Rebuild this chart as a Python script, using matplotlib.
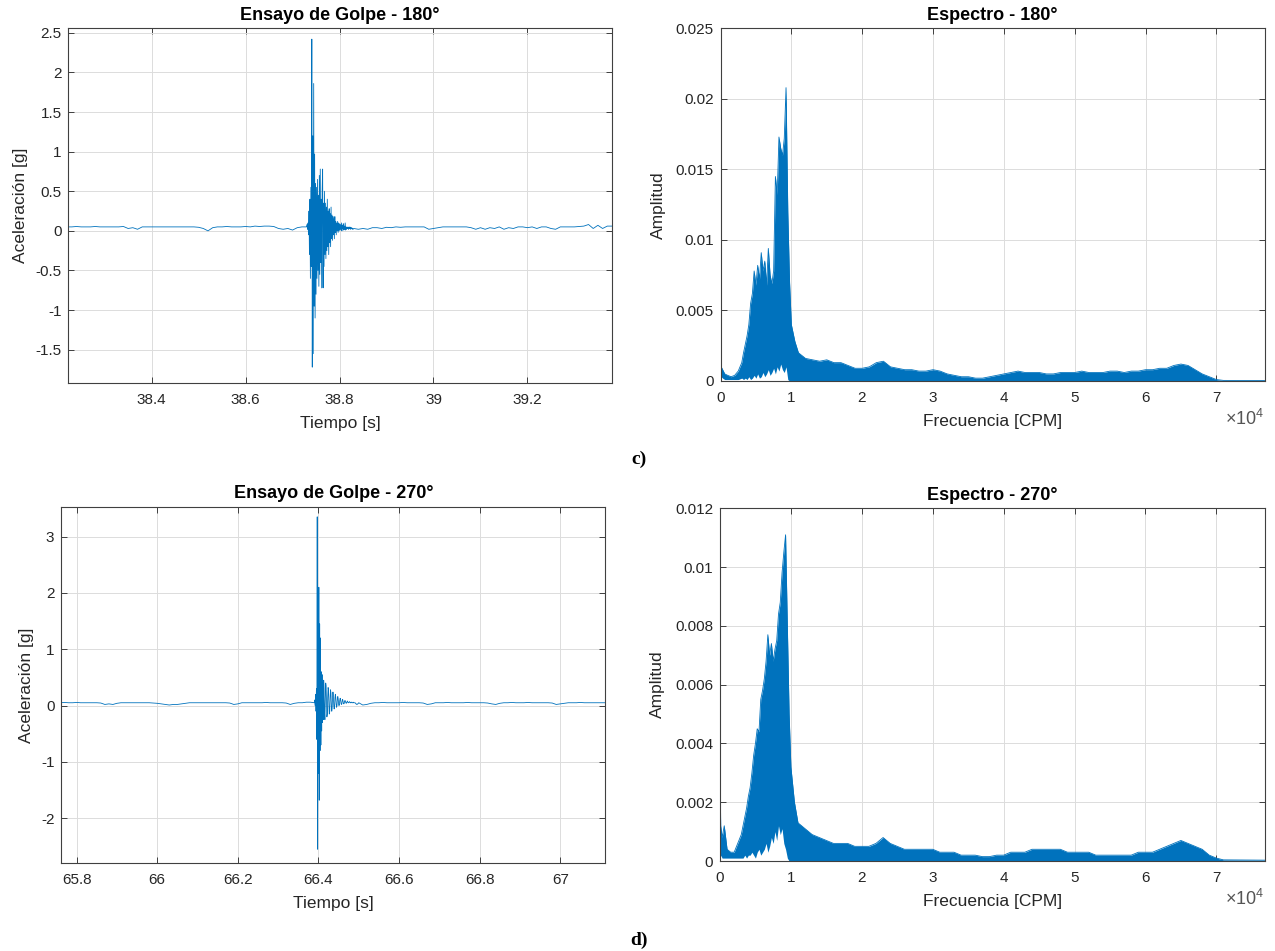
"""Ensayo de golpe (impact test) signals and spectra, 180° and 270°."""

import numpy as np
import matplotlib.pyplot as plt
from matplotlib.ticker import ScalarFormatter

plt.rcParams['font.family'] = ['Liberation Sans', 'DejaVu Sans']
plt.rcParams['mathtext.fontset'] = 'custom'
plt.rcParams['mathtext.rm'] = 'Liberation Sans'
plt.rcParams['axes.unicode_minus'] = False

BLUE = '#0072BD'
DARK = '#262626'

# ---------------- 180° time signal ----------------
# baseline before impact, 10 ms steps from 38.22 s
pre_180 = [0.05, 0.05, 0.055, 0.05, 0.05, 0.05, 0.055, 0.05, 0.05, 0.05, 0.05, 0.05, 0.055,
           0.03, 0.04, 0.02, 0.05, 0.05,
           0.05, 0.05, 0.05, 0.05, 0.05, 0.05, 0.05, 0.05, 0.05, 0.05, 0.045,
           0.03, 0.0, 0.04,
           0.05, 0.05, 0.055, 0.05, 0.05, 0.05, 0.055, 0.05, 0.06, 0.055, 0.06, 0.06, 0.055,
           0.03, 0.02, 0.03, 0.01, 0.04, 0.05]
# impact, 1 ms steps from 38.730 s
burst_180 = [0.05, 0.08, 0.02, 0.10, -0.05, 0.25, -0.30, 0.40, -0.60, 0.55,
             -0.45, 2.42, -1.72, 1.20, -1.55, 1.86, -0.95, 0.97, -1.10, 0.60,
             -0.80, 0.55, -0.60, 0.65, -0.50, 0.45, -0.70, 0.70, -0.55, 0.78,
             -0.40, 0.40, -0.72, 0.50, 0.78, -0.72, 0.35, -0.45, 0.50, -0.30,
             0.35, -0.35, 0.30, -0.25, 0.40, -0.20, 0.25, -0.30, 0.28, -0.15,
             0.22, -0.20, 0.30, -0.10, 0.20, -0.12, 0.18, -0.05, 0.15, -0.10,
             0.18, -0.02, 0.12, -0.05, 0.10, 0.00, 0.12, -0.02, 0.10, 0.00,
             0.09, 0.01, 0.08, 0.02, 0.10, 0.00, 0.07, 0.03, 0.09, 0.01,
             0.06, 0.02, 0.10, 0.01, 0.05, 0.02, 0.04, 0.03, 0.05, 0.02,
             0.04, 0.03, 0.05, 0.02, 0.04, 0.03, 0.04, 0.02, 0.03, 0.02,
             0.03]
# baseline after impact, 10 ms steps from 38.84 s
post_180 = [0.02, 0.03, 0.02, 0.04,
            0.04, 0.03, 0.045, 0.04, 0.05, 0.045, 0.05, 0.05, 0.05, 0.05, 0.05,
            0.02, 0.03, 0.04,
            0.05, 0.05, 0.05, 0.05, 0.05, 0.05, 0.04,
            0.02, 0.04, 0.02, 0.04, 0.03, 0.05, 0.02, 0.04, 0.03, 0.05,
            0.05, 0.04, 0.05, 0.03, 0.05, 0.05,
            0.03, 0.02, 0.05,
            0.05, 0.05, 0.05, 0.055, 0.06,
            0.08, 0.03, 0.07, 0.03, 0.06, 0.06]

# ---------------- 270° time signal ----------------
pre_270 = [0.05, 0.055, 0.05, 0.05, 0.055, 0.05, 0.05, 0.05, 0.05, 0.05, 0.045,
           0.02, 0.03, 0.02, 0.04,
           0.05, 0.05, 0.05, 0.05, 0.05, 0.05, 0.05, 0.05, 0.045, 0.04,
           0.03, 0.02, 0.01, 0.02, 0.02, 0.03, 0.04,
           0.05, 0.05, 0.05, 0.05, 0.05, 0.05, 0.05, 0.05, 0.05, 0.05, 0.045,
           0.02, 0.03,
           0.05, 0.05, 0.05, 0.05, 0.05, 0.05, 0.055, 0.05, 0.05, 0.05, 0.05, 0.045,
           0.02, 0.04,
           0.05, 0.05, 0.06, 0.06]
burst_270 = [0.05, 0.10, 0.00, 0.20, -0.10, 0.30, -0.60, 3.35, -2.55, 1.50,
             -1.20, 2.10, -1.68, 1.45, -0.80, 1.20, -0.70, 0.60, -0.45, 0.55,
             -0.30, 0.40, -0.25, 0.45, 0.30, -0.10, -0.25, 0.10, 0.40, 0.35,
             0.05, -0.20, -0.15, 0.15, 0.32, 0.28, 0.00, -0.15, -0.10, 0.15,
             0.28, 0.22, 0.00, -0.10, -0.05, 0.15, 0.24, 0.18, 0.00, -0.06,
             -0.02, 0.14, 0.20, 0.14, 0.02, -0.03, 0.00, 0.12, 0.16, 0.12,
             0.03, 0.00, 0.02, 0.10, 0.13, 0.10, 0.04, 0.02, 0.03, 0.09,
             0.11, 0.08, 0.04, 0.03, 0.04, 0.08, 0.09, 0.07, 0.05, 0.04,
             0.05, 0.07, 0.08, 0.06, 0.05, 0.05, 0.06, 0.07, 0.06, 0.05,
             0.05, 0.06, 0.06, 0.05, 0.05, 0.05, 0.06, 0.05, 0.05, 0.05,
             0.05, 0.05, 0.04, 0.03, 0.03, 0.02, 0.02, 0.03, 0.03, 0.04, 0.05]
post_270 = [0.01, 0.02, 0.04,
            0.05, 0.05, 0.055, 0.05, 0.05, 0.05, 0.05, 0.055, 0.05, 0.05, 0.05, 0.05, 0.045,
            0.02, 0.03,
            0.05, 0.05, 0.05, 0.055, 0.05, 0.05, 0.05, 0.05, 0.055, 0.05, 0.05, 0.05, 0.05, 0.045,
            0.03, 0.02, 0.04,
            0.05, 0.05, 0.055, 0.05, 0.05, 0.05, 0.055, 0.05, 0.05, 0.05, 0.05, 0.05, 0.045,
            0.02, 0.03, 0.04,
            0.05, 0.05, 0.05, 0.055, 0.05, 0.05, 0.05, 0.05, 0.05, 0.05]

# ---------------- spectra (CPM) ----------------
freq = [0, 100, 300, 600, 1000, 1500, 2000, 2500,
        3000, 3250, 3500, 3750, 4000, 4250, 4500, 4750, 5000, 5250, 5500, 5750,
        6000, 6250, 6500, 6750, 7000, 7250, 7500, 7750, 8000, 8250, 8500, 8750,
        9000, 9250, 9500, 9750, 10000, 10500, 11000,
        12000, 13000, 14000, 15000, 16000, 17000, 18000, 19000, 20000, 21000,
        22000, 23000, 24000, 25000, 26000, 27000, 28000, 29000, 30000, 31000,
        32000, 33000, 34000, 35000, 36000, 37000, 38000, 39000, 40000, 41000,
        42000, 43000, 44000, 45000, 46000, 47000, 48000, 49000, 50000, 51000,
        52000, 53000, 54000, 55000, 56000, 57000, 58000, 59000, 60000, 61000,
        62000, 63000, 64000, 65000, 66000, 67000, 68000, 69000, 70000, 71000,
        76800]

spec_hi_180 = [0.0031, 0.0010, 0.0008, 0.0005, 0.0004, 0.0003, 0.0004, 0.0007,
               0.0013, 0.0020, 0.0026, 0.0032, 0.0040, 0.0055, 0.0062, 0.0078, 0.0068, 0.0082, 0.0072, 0.0091,
               0.0078, 0.0085, 0.0068, 0.0094, 0.0075, 0.0069, 0.0078, 0.0145, 0.0132, 0.0173, 0.0165, 0.0160,
               0.0172, 0.0208, 0.0120, 0.0070, 0.0040, 0.0028, 0.0020,
               0.0016, 0.0015, 0.0014, 0.0015, 0.0013, 0.0013, 0.0011, 0.0009, 0.0009, 0.0010,
               0.0013, 0.0014, 0.0010, 0.0009, 0.0008, 0.0008, 0.0007, 0.0007, 0.0008, 0.0007,
               0.0005, 0.0004, 0.0003, 0.0003, 0.0002, 0.0002, 0.0003, 0.0004, 0.0005, 0.0006,
               0.0007, 0.0006, 0.0006, 0.0006, 0.0005, 0.0005, 0.0006, 0.0006, 0.0006, 0.0007,
               0.0006, 0.0006, 0.0006, 0.0007, 0.0007, 0.0006, 0.0007, 0.0007, 0.0008, 0.0008,
               0.0009, 0.0009, 0.0011, 0.0012, 0.0011, 0.0008, 0.0005, 0.0003, 0.0001, 0.00004,
               0.00003]
spec_lo_180 = [0.0, 0.0003, 0.0002, 0.0001, 0.0001, 0.0001, 0.0001, 0.0001,
               0.0002, 0.0001, 0.0002, 0.0001, 0.0003, 0.0001, 0.0002, 0.0004, 0.0002, 0.0005, 0.0002, 0.0003,
               0.0006, 0.0003, 0.0005, 0.0008, 0.0004, 0.0006, 0.0009, 0.0005, 0.0010, 0.0007, 0.0012, 0.0008,
               0.0006, 0.0010, 0.0001, 0.0, 0.0, 0.0, 0.0,
               0.0, 0.0, 0.0, 0.0, 0.0, 0.0, 0.0, 0.0, 0.0, 0.0,
               0.0, 0.0, 0.0, 0.0, 0.0, 0.0, 0.0, 0.0, 0.0, 0.0,
               0.0, 0.0, 0.0, 0.0, 0.0, 0.0, 0.0, 0.0, 0.0, 0.0,
               0.0, 0.0, 0.0, 0.0, 0.0, 0.0, 0.0, 0.0, 0.0, 0.0,
               0.0, 0.0, 0.0, 0.0, 0.0, 0.0, 0.0, 0.0, 0.0, 0.0,
               0.0, 0.0, 0.0, 0.0, 0.0, 0.0, 0.0, 0.0, 0.0, 0.0,
               0.0]

spec_hi_270 = [0.0029, 0.0012, 0.0008, 0.0012, 0.0004, 0.0003, 0.0003, 0.0006,
               0.0009, 0.0012, 0.0015, 0.0018, 0.0022, 0.0025, 0.0030, 0.0036, 0.0040, 0.0045, 0.0044, 0.0055,
               0.0058, 0.0062, 0.0068, 0.0077, 0.0070, 0.0074, 0.0068, 0.0072, 0.0075, 0.0084, 0.0088, 0.0098,
               0.0105, 0.0111, 0.0080, 0.0050, 0.0032, 0.0020, 0.0013,
               0.0011, 0.0009, 0.0008, 0.0007, 0.0006, 0.0006, 0.0006, 0.0005, 0.0005, 0.0005,
               0.0006, 0.0008, 0.0006, 0.0005, 0.0004, 0.0004, 0.0004, 0.0004, 0.0004, 0.0003,
               0.0003, 0.0003, 0.0002, 0.0002, 0.0002, 0.00015, 0.00015, 0.0002, 0.0002, 0.0003,
               0.0003, 0.0003, 0.0004, 0.0004, 0.0004, 0.0004, 0.0004, 0.0003, 0.0003, 0.0003,
               0.0003, 0.0002, 0.0002, 0.0002, 0.0002, 0.0002, 0.0002, 0.0003, 0.0003, 0.0003,
               0.0004, 0.0005, 0.0006, 0.0007, 0.0006, 0.0005, 0.0004, 0.0002, 0.0001, 0.00004,
               0.00003]
spec_lo_270 = [0.0, 0.0002, 0.0001, 0.0001, 0.0001, 0.0001, 0.0001, 0.0001,
               0.0001, 0.0001, 0.0002, 0.0001, 0.0002, 0.0002, 0.0003, 0.0002, 0.0001, 0.0003, 0.0004, 0.0002,
               0.0003, 0.0004, 0.0006, 0.0003, 0.0005, 0.0008, 0.0006, 0.0010, 0.0007, 0.0012, 0.0009, 0.0011,
               0.0006, 0.0004, 0.0001, 0.0, 0.0, 0.0, 0.0,
               0.0, 0.0, 0.0, 0.0, 0.0, 0.0, 0.0, 0.0, 0.0, 0.0,
               0.0, 0.0, 0.0, 0.0, 0.0, 0.0, 0.0, 0.0, 0.0, 0.0,
               0.0, 0.0, 0.0, 0.0, 0.0, 0.0, 0.0, 0.0, 0.0, 0.0,
               0.0, 0.0, 0.0, 0.0, 0.0, 0.0, 0.0, 0.0, 0.0, 0.0,
               0.0, 0.0, 0.0, 0.0, 0.0, 0.0, 0.0, 0.0, 0.0, 0.0,
               0.0, 0.0, 0.0, 0.0, 0.0, 0.0, 0.0, 0.0, 0.0, 0.0,
               0.0]


def signal(t_pre, pre, t_burst, burst, t_post, post):
    t = np.concatenate([t_pre + 0.01 * np.arange(len(pre)),
                        t_burst + 0.001 * np.arange(len(burst)),
                        t_post + 0.01 * np.arange(len(post))])
    a = np.concatenate([pre, burst, post])
    return t, a


def style(ax):
    ax.grid(True, color='#dcdcdc', lw=0.7)
    ax.set_axisbelow(True)
    ax.tick_params(direction='in', top=True, right=True, length=4, width=0.6,
                   colors=DARK, labelsize=11)
    ax.tick_params(axis='x', pad=7)
    ax.tick_params(axis='y', pad=5)
    for s in ax.spines.values():
        s.set_color('#404040')
        s.set_linewidth(0.8)


fig = plt.figure(figsize=(12.75, 9.51), dpi=100)

ax1 = fig.add_axes([0.0537, 0.5973, 0.4263, 0.3728])
ax2 = fig.add_axes([0.5651, 0.5994, 0.4267, 0.3707])
ax3 = fig.add_axes([0.0481, 0.0922, 0.4267, 0.3750])
ax4 = fig.add_axes([0.5647, 0.0946, 0.4271, 0.3709])

# time signals
t, a = signal(38.22, pre_180, 38.730, burst_180, 38.84, post_180)
ax1.plot(t, a, color=BLUE, lw=0.6)
ax1.set_xlim(38.223, 39.38)
ax1.set_ylim(-1.92, 2.555)
ax1.set_xticks([38.4, 38.6, 38.8, 39.0, 39.2])
ax1.set_xticklabels(['38.4', '38.6', '38.8', '39', '39.2'])
ax1.set_yticks([-1.5, -1, -0.5, 0, 0.5, 1, 1.5, 2, 2.5])
ax1.set_yticklabels(['-1.5', '-1', '-0.5', '0', '0.5', '1', '1.5', '2', '2.5'])
ax1.set_title('Ensayo de Golpe - 180°', fontsize=13, fontweight='bold', pad=6)
ax1.set_xlabel('Tiempo [s]', fontsize=12.5, color=DARK)
ax1.set_ylabel('Aceleración [g]', fontsize=12.5, color=DARK)
ax1.xaxis.set_label_coords(0.5, -0.113)
ax1.yaxis.set_label_coords(-0.089, 0.5)

t, a = signal(65.76, pre_270, 66.390, burst_270, 66.51, post_270)
ax3.plot(t, a, color=BLUE, lw=0.6)
ax3.set_xlim(65.762, 67.112)
ax3.set_ylim(-2.80, 3.53)
ax3.set_xticks([65.8, 66.0, 66.2, 66.4, 66.6, 66.8, 67.0])
ax3.set_xticklabels(['65.8', '66', '66.2', '66.4', '66.6', '66.8', '67'])
ax3.set_yticks([-2, -1, 0, 1, 2, 3])
ax3.set_yticklabels(['-2', '-1', '0', '1', '2', '3'])
ax3.set_title('Ensayo de Golpe - 270°', fontsize=13, fontweight='bold', pad=6)
ax3.set_xlabel('Tiempo [s]', fontsize=12.5, color=DARK)
ax3.set_ylabel('Aceleración [g]', fontsize=12.5, color=DARK)
ax3.xaxis.set_label_coords(0.5, -0.112)
ax3.yaxis.set_label_coords(-0.064, 0.5)

# spectra
for ax, hi, lo, top, ticks, title in [
        (ax2, spec_hi_180, spec_lo_180, 0.025, [0, 0.005, 0.01, 0.015, 0.02, 0.025], 'Espectro - 180°'),
        (ax4, spec_hi_270, spec_lo_270, 0.012, [0, 0.002, 0.004, 0.006, 0.008, 0.01, 0.012], 'Espectro - 270°')]:
    ax.fill_between(freq, lo, hi, color=BLUE, lw=0)
    ax.plot(freq, hi, color=BLUE, lw=0.6)
    ax.set_xlim(0, 76800)
    ax.set_ylim(0, top)
    ax.set_xticks([0, 10000, 20000, 30000, 40000, 50000, 60000, 70000])
    ax.set_yticks(ticks)
    ax.set_yticklabels([('%g' % v) for v in ticks])
    fmt = ScalarFormatter(useMathText=True)
    fmt.set_powerlimits((0, 0))
    ax.xaxis.set_major_formatter(fmt)
    ax.set_title(title, fontsize=13, fontweight='bold', pad=6)
    ax.set_xlabel('Frecuencia [CPM]', fontsize=12.5, color=DARK)
    ax.set_ylabel('Amplitud', fontsize=12.5, color=DARK)
    ax.xaxis.set_label_coords(0.5, -0.115)
    ax.yaxis.set_label_coords(-0.114, 0.5)

for ax in (ax1, ax2, ax3, ax4):
    style(ax)
    ax.xaxis.label.set_va('center')
    ax.yaxis.label.set_va('center')
for ax in (ax2, ax4):
    ax.xaxis.get_offset_text().set_fontsize(13)
    ax.xaxis.get_offset_text().set_color('#555555')

fig.text(0.501, 0.5174, 'c)', family=['Liberation Serif', 'DejaVu Serif'],
         fontweight='bold', fontsize=14, ha='center', va='center')
fig.text(0.501, 0.0116, 'd)', family=['Liberation Serif', 'DejaVu Serif'],
         fontweight='bold', fontsize=14, ha='center', va='center')

fig.savefig('out.png', dpi=100)
